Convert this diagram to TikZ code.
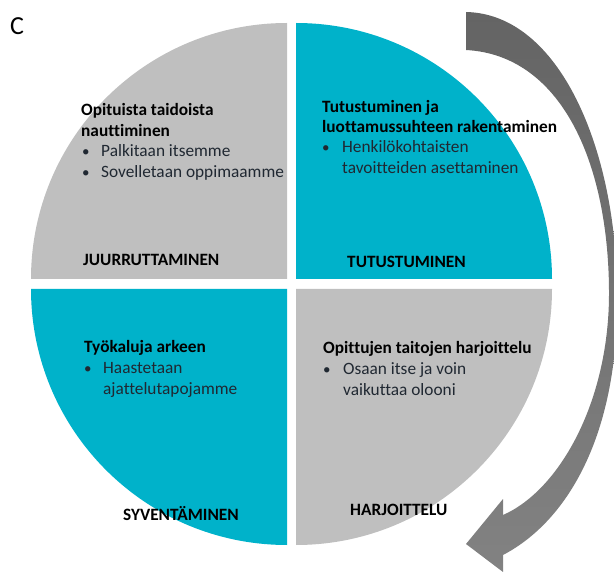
\documentclass[tikz,border=0pt]{standalone}
\usepackage{fontspec}
\setmainfont{Carlito}[Ligatures={NoCommon}]
\definecolor{quadgray}{RGB}{191,191,191}
\definecolor{quadteal}{RGB}{0,178,202}
\definecolor{arrowtop}{RGB}{100,100,100}
\definecolor{arrowbot}{RGB}{130,130,130}
\definecolor{bodytext}{RGB}{32,40,50}
\tikzset{
  ttl/.style={font=\bfseries\fontsize{17.3}{20.5}\selectfont, text=black, anchor=base west, inner sep=0pt},
  itm/.style={font=\fontsize{17.3}{20.5}\selectfont, text=bodytext, anchor=base west, inner sep=0pt},
  bul/.style={font=\fontsize{15}{20.5}\selectfont, text=bodytext, anchor=base west, inner sep=0pt},
  phase/.style={font=\bfseries\fontsize{17.3}{20.5}\selectfont, text=black, anchor=base west, inner sep=0pt},
}
\begin{document}
\begin{tikzpicture}[x=1pt,y=-1pt]
\useasboundingbox (0,0) rectangle (614,572);
% quadrants
\fill[quadgray] (287,279) -- ++(-256,0) arc[start angle=180,end angle=270,radius=256] -- cycle;
\fill[quadteal] (296,279) -- ++(0,-256) arc[start angle=270,end angle=360,radius=256] -- cycle;
\fill[quadgray] (296,289) -- ++(256,0) arc[start angle=0,end angle=90,radius=256] -- cycle;
\fill[quadteal] (287,289) -- ++(0,256) arc[start angle=90,end angle=180,radius=256] -- cycle;
% curved arrow
\shade[top color=arrowtop, bottom color=arrowbot]
  (466,12) .. controls (560,14) and (616,150) .. (617,290)
  .. controls (620,430) and (570,520) .. (503,555)
  -- (503,572) -- (466,544) -- (503,499) -- (503,515)
  .. controls (560,490) and (610,400) .. (609,290)
  .. controls (608,160) and (560,55) .. (466,50) -- cycle;
% label C
\node[font=\fontsize{26}{30}\selectfont, anchor=base west, inner sep=0pt] (c) at (10,35) {C};
% top-left
\node[ttl] (tl1) at (81,115.5) {Opituista taidoista};
\node[ttl] (tl2) at (81,136.5) {nauttiminen};
\node[bul] (tlb1) at (82,157) {•};
\node[itm] (tli1) at (101,157) {Palkitaan itsemme};
\node[bul] (tlb2) at (82,178) {•};
\node[itm] (tli2) at (101,178) {Sovelletaan oppimaamme};
\node[phase] (tlp) at (83,265.5) {JUURRUTTAMINEN};
% top-right
\node[ttl] (tr1) at (322,112.5) {Tutustuminen ja};
\node[ttl] (tr2) at (322,132.5) {luottamussuhteen rakentaminen};
\node[bul] (trb1) at (322,152.5) {•};
\node[itm] (tri1) at (342,152.5) {Henkilökohtaisten};
\node[itm] (tri2) at (342,174) {tavoitteiden asettaminen};
\node[phase] (trp) at (347,267.5) {TUTUSTUMINEN};
% bottom-left
\node[ttl] (bl1) at (84,352.5) {Työkaluja arkeen};
\node[bul] (blb1) at (84,374) {•};
\node[itm] (bli1) at (103,374) {Haastetaan};
\node[itm] (bli2) at (103,395) {ajattelutapojamme};
\node[phase] (blp) at (123,520) {SYVENTÄMINEN};
% bottom-right
\node[ttl] (br1) at (323,354) {Opittujen taitojen harjoittelu};
\node[bul] (brb1) at (323,375) {•};
\node[itm] (bri1) at (343,375) {Osaan itse ja voin};
\node[itm] (bri2) at (343,395.5) {vaikuttaa olooni};
\node[phase] (brp) at (350,515) {HARJOITTELU};
\end{tikzpicture}
\end{document}
